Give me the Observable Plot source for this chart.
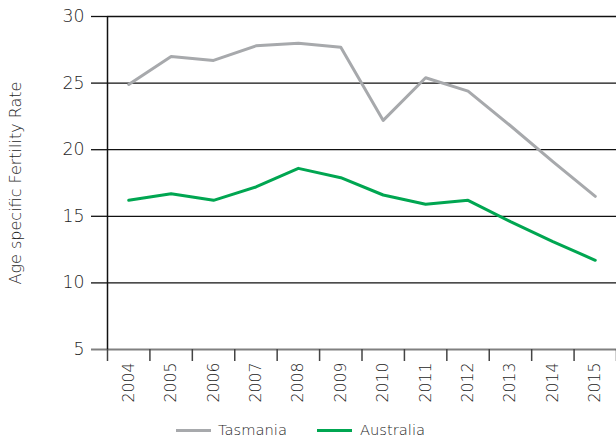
<!DOCTYPE html>
<html>
<head>
<meta charset="utf-8">
<script src="https://cdn.jsdelivr.net/npm/d3@7"></script>
<script src="https://cdn.jsdelivr.net/npm/@observablehq/plot@0.6"></script>
<style>
  body { margin: 0; background: #fff; font-family: "DejaVu Sans", sans-serif; font-weight: 200; color: #1e1e1e; }
  #wrap { position: relative; width: 616px; height: 441px; }
  .sw { position: absolute; height: 3px; width: 35px; top: 429px; }
  .lt { position: absolute; top: 420px; font-size: 14.7px; line-height: 20px; }
  svg g[aria-label="y-axis label"] text { font-size: 16px !important; }
</style>
</head>
<body>
<div id="wrap">
  <div id="chart"></div>
  <div class="sw" style="left:176px;background:#a7a9ac"></div>
  <div class="lt" style="left:218px">Tasmania</div>
  <div class="sw" style="left:317px;background:#00a651"></div>
  <div class="lt" style="left:360px">Australia</div>
</div>
<script>
const years = [2004, 2005, 2006, 2007, 2008, 2009, 2010, 2011, 2012, 2013, 2014, 2015];
const tasmania = [24.9, 27.0, 26.7, 27.8, 28.0, 27.7, 22.2, 25.4, 24.4, 21.8, 19.1, 16.5];
const australia = [16.2, 16.7, 16.2, 17.2, 18.6, 17.9, 16.6, 15.9, 16.2, 14.6, 13.1, 11.7];
const yTicks = [10, 15, 20, 25, 30];
const yBase = [5];
const boundaries = [2003.5, 2004.5, 2005.5, 2006.5, 2007.5, 2008.5, 2009.5, 2010.5, 2011.5, 2012.5, 2013.5, 2014.5, 2015.5];

const tasData = years.map((year, i) => ({year, value: tasmania[i]}));
const ausData = years.map((year, i) => ({year, value: australia[i]}));

const chart = Plot.plot({
  width: 616,
  height: 412,
  marginLeft: 107,
  marginRight: 0,
  marginTop: 16,
  marginBottom: 63,
  x: {domain: [2003.5, 2015.5]},
  y: {domain: [5, 30]},
  style: {fontFamily: "DejaVu Sans, sans-serif", fontWeight: 200, color: "#1e1e1e", background: "#fff"},
  marks: [
    Plot.gridY(yTicks, {stroke: "#111", strokeOpacity: 1, strokeWidth: 1.3}),
    Plot.ruleY(yBase, {stroke: "#808080", strokeWidth: 2}),
    Plot.axisY(yTicks, {tickSize: 16, tickPadding: 7, fontSize: 17.3, stroke: "#111", strokeWidth: 1.3,
      label: "Age specific Fertility Rate", labelAnchor: "center", labelArrow: "none", labelOffset: 98}),
    Plot.axisY(yBase, {tickSize: 16, tickPadding: 7, fontSize: 17.3, stroke: "#808080", strokeWidth: 2, label: null}),
    Plot.ruleX([2003.5], {stroke: "#111", strokeWidth: 1.5}),
    Plot.axisX(boundaries, {tickSize: 12, tickFormat: () => "", stroke: "#444", strokeWidth: 1.5, label: null}),
    Plot.axisX(years, {tickSize: 0, tickPadding: 13, tickRotate: -90, fontSize: 15.7, label: null, tickFormat: d => String(d)}),
    Plot.line(tasData, {x: "year", y: "value", stroke: "#a7a9ac", strokeWidth: 3}),
    Plot.line(ausData, {x: "year", y: "value", stroke: "#00a651", strokeWidth: 3})
  ]
});
document.getElementById("chart").appendChild(chart);
</script>
</body>
</html>
